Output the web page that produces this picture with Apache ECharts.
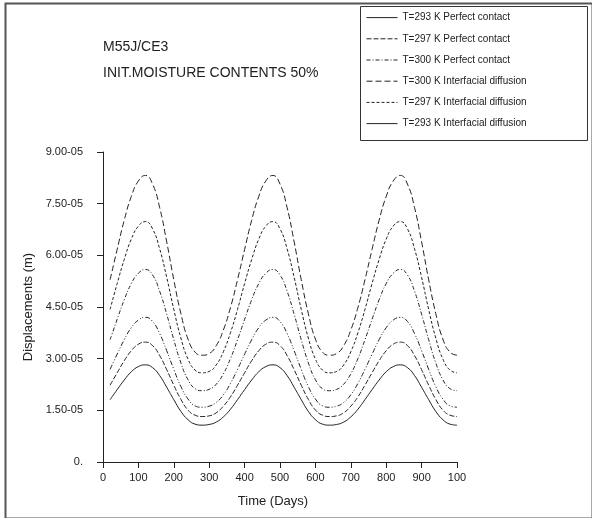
<!DOCTYPE html>
<html>
<head>
<meta charset="utf-8">
<script src="https://cdn.jsdelivr.net/npm/echarts@6/dist/echarts.min.js"></script>
<style>
html,body{margin:0;padding:0;background:#fff;}
#chart{width:592px;height:518px;}
</style>
</head>
<body>
<div id="chart"></div>
<script>
// Time (days)
const days = [20,40,60,80,100,120,140,160,180,200,220,240,260,280,300,320,340,360,
  380,400,420,440,460,480,500,520,540,560,580,600,620,640,660,680,700,720,
  740,760,780,800,820,840,860,880,900,920,940,960,980,1000];

// Displacements in units of 1e-5 m
const sT300ID = [5.29,6.17,7.02,7.71,8.16,8.32,8.07,7.39,6.39,5.29,4.31,3.57,3.19,3.10,3.15,3.38,3.83,4.48,
  5.29,6.17,7.02,7.71,8.16,8.32,8.07,7.39,6.39,5.29,4.31,3.57,3.19,3.10,3.15,3.38,3.83,4.48,
  5.29,6.17,7.02,7.71,8.16,8.32,8.07,7.39,6.39,5.29,4.31,3.57,3.19,3.10];
const sT297ID = [4.43,5.18,5.88,6.47,6.85,6.98,6.77,6.19,5.36,4.43,3.60,2.99,2.67,2.59,2.63,2.82,3.20,3.75,
  4.43,5.18,5.88,6.47,6.85,6.98,6.77,6.19,5.36,4.43,3.60,2.99,2.67,2.59,2.63,2.82,3.20,3.75,
  4.43,5.18,5.88,6.47,6.85,6.98,6.77,6.19,5.36,4.43,3.60,2.99,2.67,2.59];
const sT300PC = [3.55,4.14,4.71,5.18,5.48,5.59,5.43,4.96,4.29,3.55,2.88,2.39,2.13,2.07,2.11,2.26,2.56,3.00,
  3.55,4.14,4.71,5.18,5.48,5.59,5.43,4.96,4.29,3.55,2.88,2.39,2.13,2.07,2.11,2.26,2.56,3.00,
  3.55,4.14,4.71,5.18,5.48,5.59,5.43,4.96,4.29,3.55,2.88,2.39,2.13,2.07];
const sT293ID = [2.69,3.13,3.55,3.90,4.12,4.20,4.08,3.73,3.23,2.69,2.19,1.83,1.63,1.59,1.62,1.73,1.95,2.28,
  2.69,3.13,3.55,3.90,4.12,4.20,4.08,3.73,3.23,2.69,2.19,1.83,1.63,1.59,1.62,1.73,1.95,2.28,
  2.69,3.13,3.55,3.90,4.12,4.20,4.08,3.73,3.23,2.69,2.19,1.83,1.63,1.59];
const sT297PC = [2.23,2.59,2.94,3.23,3.42,3.48,3.38,3.09,2.68,2.23,1.82,1.51,1.36,1.32,1.34,1.43,1.62,1.89,
  2.23,2.59,2.94,3.23,3.42,3.48,3.38,3.09,2.68,2.23,1.82,1.51,1.36,1.32,1.34,1.43,1.62,1.89,
  2.23,2.59,2.94,3.23,3.42,3.48,3.38,3.09,2.68,2.23,1.82,1.51,1.36,1.32];
const sT293PC = [1.81,2.10,2.38,2.62,2.77,2.82,2.74,2.51,2.17,1.81,1.47,1.23,1.10,1.07,1.09,1.16,1.31,1.53,
  1.81,2.10,2.38,2.62,2.77,2.82,2.74,2.51,2.17,1.81,1.47,1.23,1.10,1.07,1.09,1.16,1.31,1.53,
  1.81,2.10,2.38,2.62,2.77,2.82,2.74,2.51,2.17,1.81,1.47,1.23,1.10,1.07];

const legendNames = ['T=293 K Perfect contact','T=297 K Perfect contact','T=300 K Perfect contact',
  'T=300 K Interfacial diffusion','T=297 K Interfacial diffusion','T=293 K Interfacial diffusion'];
const xTicks = [0,100,200,300,400,500,600,700,800,900,1000];
const xTickLabels = ['0','100','200','300','400','500','600','700','800','900','100'];
const yTicks = [0,1.5,3,4.5,6,7.5,9];
const yTickLabels = ['0.','1.50-05','3.00-05','4.50-05','6.00-05','7.50-05','9.00-05'];

const seriesValues = [sT293PC, sT297PC, sT300PC, sT300ID, sT297ID, sT293ID];
const dashes = ['solid',[5,2],[4,2,1,2],[6,3],[3,2],[5,2,1,2,1,2]];
const FONT = 'Liberation Sans';
const LC = '#222';

const chart = echarts.init(document.getElementById('chart'), null, {renderer:'canvas'});
const series = seriesValues.map((vals, i) => ({
  name: legendNames[i],
  type: 'line',
  smooth: true,
  symbol: 'none',
  data: days.map((d, j) => [d, vals[j]]),
  lineStyle: {color: LC, width: 1, type: dashes[i]},
  itemStyle: {color: LC},
  silent: true,
  animation: false
}));

chart.setOption({
  backgroundColor: '#fff',
  animation: false,
  title: {
    text: 'M55J/CE3\nINIT.MOISTURE CONTENTS 50%',
    left: 98, top: 29,
    textStyle: {fontFamily: FONT, fontSize: 14, fontWeight: 'normal', color: '#222', lineHeight: 26}
  },
  legend: {
    orient: 'vertical',
    left: 366, top: 12, padding: 0,
    itemWidth: 31, itemHeight: 14, itemGap: 10,
    itemStyle: {opacity: 0},
    lineStyle: {width: 1},
    textStyle: {fontFamily: FONT, fontSize: 10, color: '#222'},
    data: legendNames.map((n, i) => i === 5 ? {name: n, lineStyle: {type: 'solid', width: 1}} : {name: n}),
    selectedMode: false
  },
  grid: {left: 103, right: 135, top: 152, bottom: 56},
  xAxis: {
    type: 'value', min: 0, max: 1000, interval: 100,
    name: 'Time (Days)', nameLocation: 'middle', nameGap: 33,
    nameTextStyle: {fontFamily: FONT, fontSize: 13, color: '#222', padding: [0, 14, 0, 0]},
    axisLine: {onZero: false, lineStyle: {color: LC, width: 1}},
    axisTick: {show: true, length: 6, inside: false, lineStyle: {color: LC}},
    axisLabel: {fontFamily: FONT, fontSize: 11, color: '#222', margin: 10,
      formatter: v => xTickLabels[xTicks.indexOf(v)] ?? String(v)},
    splitLine: {show: false}
  },
  yAxis: {
    type: 'value', min: 0, max: 9, interval: 1.5,
    name: 'Displacements (m)', nameLocation: 'middle', nameGap: 64,
    nameTextStyle: {fontFamily: FONT, fontSize: 13, color: '#222'},
    axisLine: {show: true, onZero: false, lineStyle: {color: LC, width: 1}},
    axisTick: {show: true, length: 6, inside: false, lineStyle: {color: LC}},
    axisLabel: {fontFamily: FONT, fontSize: 11, color: '#222', margin: 20,
      formatter: v => { const k = yTicks.findIndex(t => Math.abs(t - v) < 1e-9); return k >= 0 ? yTickLabels[k] : ''; }},
    splitLine: {show: false}
  },
  graphic: [
    {type: 'rect', left: 3, top: 1, shape: {width: 587, height: 515},
     style: {fill: 'none', stroke: '#555', lineWidth: 2}, silent: true, z: 100},
    {type: 'rect', left: 358, top: 4, shape: {width: 227, height: 134},
     style: {fill: 'none', stroke: '#333', lineWidth: 1}, silent: true, z: 100}
  ],
  series: series
});
</script>
</body>
</html>
